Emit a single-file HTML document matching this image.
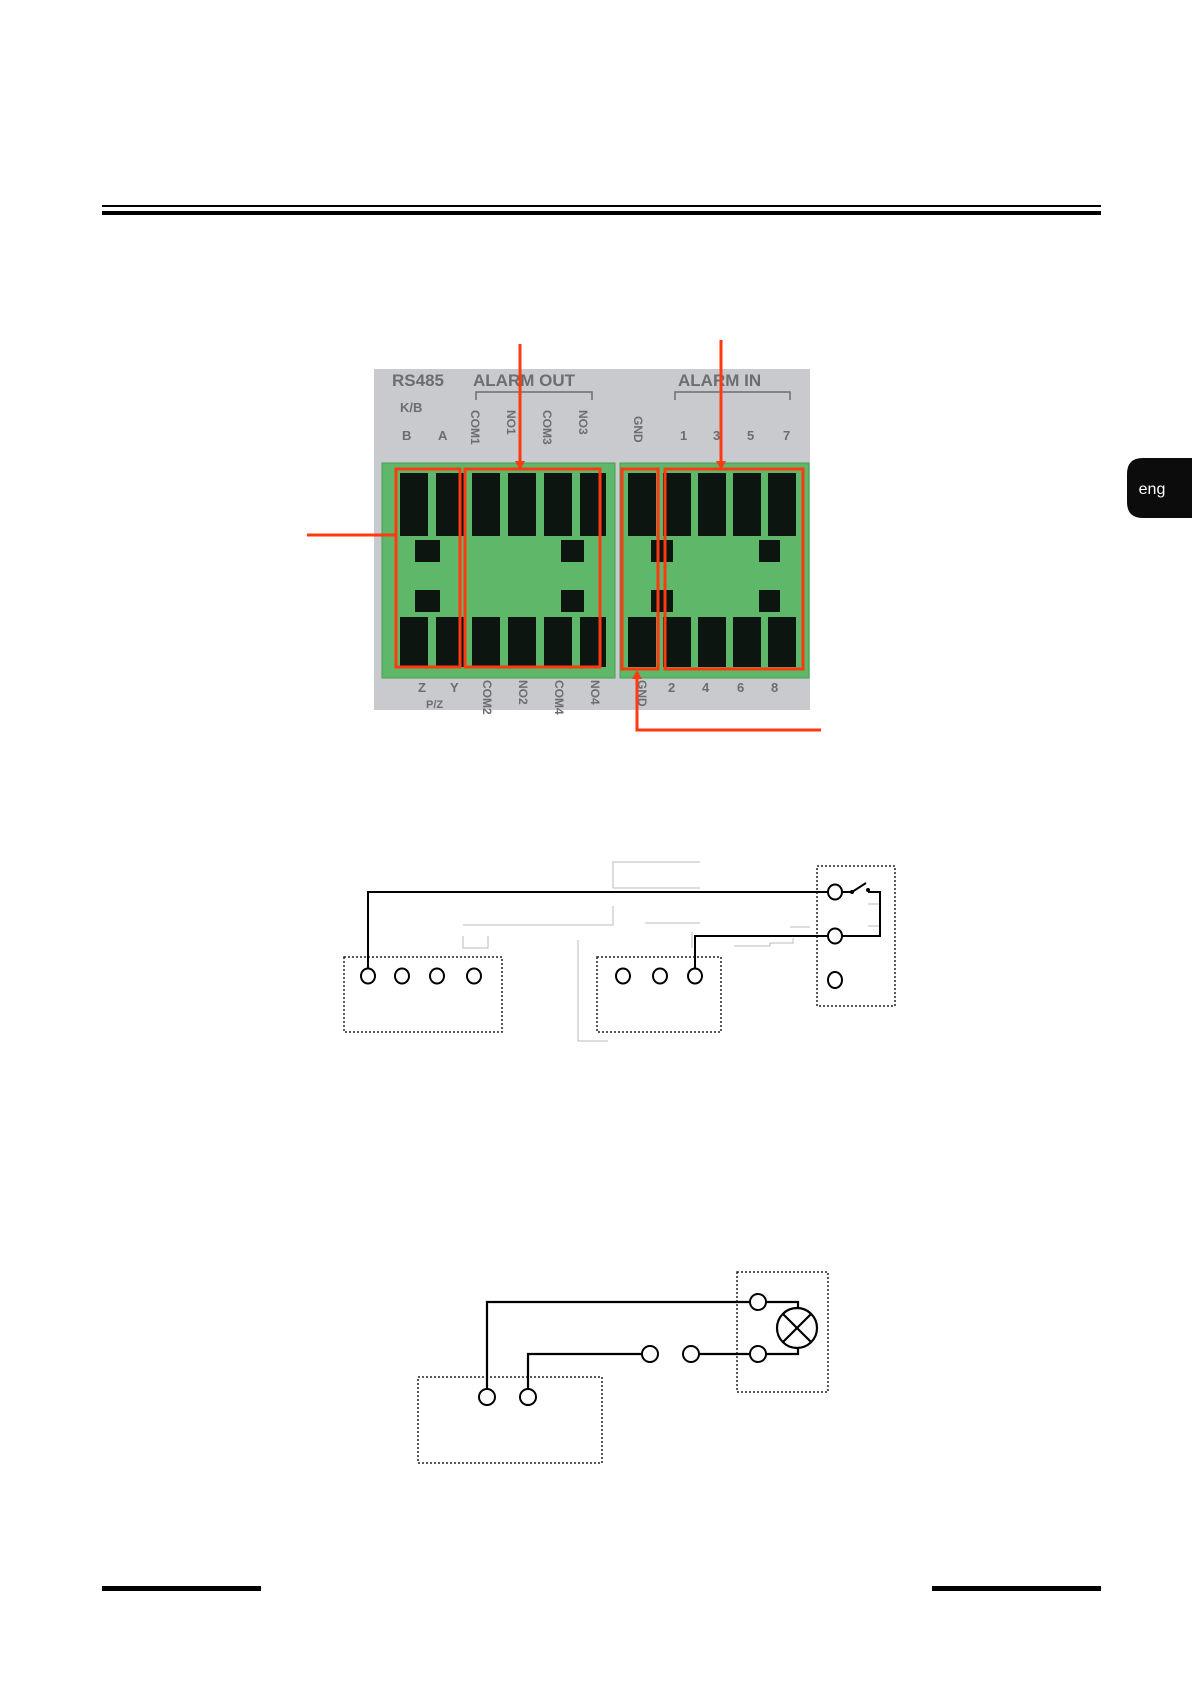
<!DOCTYPE html>
<html><head><meta charset="utf-8"><style>
html,body{margin:0;padding:0;background:#fff}
body{width:1192px;height:1685px;position:relative;overflow:hidden;font-family:"Liberation Sans",sans-serif}
</style></head><body>
<svg width="1192" height="1685" viewBox="0 0 1192 1685" xmlns="http://www.w3.org/2000/svg" style="position:absolute;left:0;top:0">
<rect x="102" y="205" width="999" height="2" fill="#000"/>
<rect x="102" y="211" width="999" height="4" fill="#000"/>
<path d="M1143 458 H1192 V518 H1143 Q1127 518 1127 502 V474 Q1127 458 1143 458 Z" fill="#0c0c0c"/>
<text x="1152" y="494" fill="#fff" font-size="16" font-family="Liberation Sans, DejaVu Sans, sans-serif" text-anchor="middle">eng</text>
<!-- photo -->
<rect x="374" y="369" width="436" height="341" fill="#c8cacd"/>
<g fill="#6b6d70" font-weight="bold" font-family="Liberation Sans, sans-serif">
<text x="392" y="386" font-size="17">RS485</text>
<text x="473" y="386" font-size="17">ALARM OUT</text>
<text x="678" y="386" font-size="17">ALARM IN</text>
<text x="400" y="412" font-size="13">K/B</text>
<text x="402" y="440" font-size="13">B</text><text x="438" y="440" font-size="13">A</text>
<text x="680" y="440" font-size="13">1</text><text x="713" y="440" font-size="13">3</text><text x="747" y="440" font-size="13">5</text><text x="783" y="440" font-size="13">7</text>
<text x="668" y="692" font-size="13">2</text><text x="702" y="692" font-size="13">4</text><text x="737" y="692" font-size="13">6</text><text x="771" y="692" font-size="13">8</text>
<text x="418" y="692" font-size="13">Z</text><text x="450" y="692" font-size="13">Y</text>
<text x="426" y="708" font-size="11">P/Z</text>
</g>
<g fill="none" stroke="#6b6d70" stroke-width="1.5"><path d="M476 400 V392 H592 V400"/><path d="M675 400 V392 H790 V400"/></g>
<g fill="#6b6d70" font-weight="bold" font-size="12" font-family="Liberation Sans, sans-serif">
<text transform="translate(471,410) rotate(90)">COM1</text>
<text transform="translate(507,410) rotate(90)">NO1</text>
<text transform="translate(543,410) rotate(90)">COM3</text>
<text transform="translate(579,410) rotate(90)">NO3</text>
<text transform="translate(634,416) rotate(90)">GND</text>
<text transform="translate(483,680) rotate(90)">COM2</text>
<text transform="translate(519,680) rotate(90)">NO2</text>
<text transform="translate(555,680) rotate(90)">COM4</text>
<text transform="translate(591,680) rotate(90)">NO4</text>
<text transform="translate(638,680) rotate(90)">GND</text>
</g>
<rect x="382" y="463" width="233" height="215" fill="#5fb86a" stroke="#4a9e56"/>
<rect x="620" y="463" width="189" height="215" fill="#5fb86a" stroke="#4a9e56"/>
<g fill="#0d1510">
<rect x="400" y="473" width="28" height="63"/><rect x="436" y="473" width="28" height="63"/><rect x="472" y="473" width="28" height="63"/><rect x="508" y="473" width="28" height="63"/><rect x="544" y="473" width="28" height="63"/><rect x="580" y="473" width="26" height="63"/>
<rect x="400" y="617" width="28" height="50"/><rect x="436" y="617" width="28" height="50"/><rect x="472" y="617" width="28" height="50"/><rect x="508" y="617" width="28" height="50"/><rect x="544" y="617" width="28" height="50"/><rect x="580" y="617" width="26" height="50"/>
<rect x="628" y="473" width="28" height="63"/><rect x="663" y="473" width="28" height="63"/><rect x="698" y="473" width="28" height="63"/><rect x="733" y="473" width="28" height="63"/><rect x="768" y="473" width="28" height="63"/>
<rect x="628" y="617" width="28" height="50"/><rect x="663" y="617" width="28" height="50"/><rect x="698" y="617" width="28" height="50"/><rect x="733" y="617" width="28" height="50"/><rect x="768" y="617" width="28" height="50"/>
<rect x="415" y="540" width="25" height="22"/><rect x="415" y="590" width="25" height="22"/>
<rect x="561" y="540" width="23" height="22"/><rect x="561" y="590" width="23" height="22"/>
<rect x="651" y="540" width="22" height="22"/><rect x="651" y="590" width="22" height="22"/>
<rect x="759" y="540" width="21" height="22"/><rect x="759" y="590" width="21" height="22"/>
</g>
<g fill="none" stroke="#ff3a12" stroke-width="3">
<rect x="396" y="469" width="64" height="198"/>
<rect x="465" y="469" width="135" height="198"/>
<rect x="622" y="469" width="36" height="200"/>
<rect x="665" y="469" width="138" height="200"/>
<path d="M520 344 V463"/><path d="M721 340 V463"/>
<path d="M307 535 H396"/>
<path d="M637 677 V730 H821"/>
</g>
<g fill="#ff3a12"><path d="M515 461 L525 461 L520 470Z"/><path d="M716 461 L726 461 L721 470Z"/><path d="M632 679 L642 679 L637 670Z"/></g>
<!-- diagram 2 -->
<g fill="none" stroke="#bbb" stroke-width="1">
<path d="M700 862 H613 V888 H700"/><path d="M613 906 V925 H463"/><path d="M463 936 V948 H488 V936"/><path d="M645 923 H700"/><path d="M578 940 V1041 H608"/><path d="M692 932 V948"/><path d="M734 946 H770 V943 H793 V938"/><path d="M790 927 H810"/><path d="M868 904 H880 M868 926 H880"/>
</g>
<g fill="none" stroke="#222" stroke-width="1.5" stroke-dasharray="2,2">
<rect x="344" y="957" width="158" height="75"/><rect x="597" y="957" width="124" height="75"/><rect x="817" y="866" width="78" height="140"/>
</g>
<g fill="none" stroke="#000" stroke-width="2">
<path d="M368 969 V892 H827"/>
<path d="M843 892 H852 M852 892 L866 883 M868 892 H880 V936 H843"/>
<path d="M695 969 V936 H827"/>
</g>
<g fill="#fff" stroke="#000" stroke-width="2">
<ellipse cx="368" cy="976" rx="7" ry="7.5"/><ellipse cx="402" cy="976" rx="7" ry="7.5"/><ellipse cx="437" cy="976" rx="7" ry="7.5"/><ellipse cx="474" cy="976" rx="7" ry="7.5"/>
<ellipse cx="623" cy="976" rx="7" ry="7.5"/><ellipse cx="660" cy="976" rx="7" ry="7.5"/><ellipse cx="695" cy="976" rx="7" ry="7.5"/>
<ellipse cx="835" cy="892" rx="7" ry="7.5"/><ellipse cx="835" cy="936" rx="7" ry="7.5"/><ellipse cx="835" cy="980" rx="7" ry="8"/>
</g>
<circle cx="852" cy="892" r="2" fill="#000"/><circle cx="868" cy="890" r="2" fill="#000"/>
<!-- diagram 3 -->
<g fill="none" stroke="#222" stroke-width="1.5" stroke-dasharray="2,2">
<rect x="418" y="1377" width="184" height="86"/><rect x="737" y="1272" width="91" height="120"/>
</g>
<g fill="none" stroke="#000" stroke-width="2.2">
<path d="M487 1389 V1302 H750"/><path d="M766 1302 H798 V1308"/>
<path d="M528 1389 V1354 H642"/><path d="M699 1354 H750"/><path d="M766 1354 H798 V1348"/>
<circle cx="797" cy="1328" r="20"/>
<path d="M783 1314 L811 1342 M811 1314 L783 1342"/>
</g>
<g fill="#fff" stroke="#000" stroke-width="2">
<circle cx="487" cy="1397" r="8"/><circle cx="528" cy="1397" r="8"/>
<circle cx="758" cy="1302" r="8"/><circle cx="758" cy="1354" r="8"/>
<circle cx="650" cy="1354" r="8"/><circle cx="691" cy="1354" r="8"/>
</g>
<rect x="102" y="1586" width="159" height="5" fill="#000"/>
<rect x="932" y="1586" width="169" height="5" fill="#000"/>
</svg>
</body></html>
